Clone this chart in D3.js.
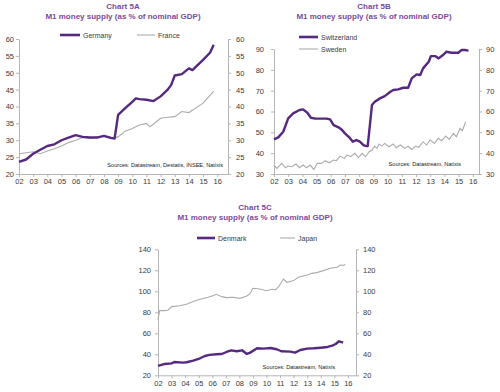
<!DOCTYPE html>
<html><head><meta charset="utf-8">
<script src="https://cdn.jsdelivr.net/npm/d3@7"></script>
<style>
body{margin:0;background:#fff}
text{font-family:"Liberation Sans",Arial,sans-serif}
</style>
</head><body>
<svg id="c" width="500" height="392"></svg>
<script>
// ---------- data ----------
const yearTicks = [2002,2003,2004,2005,2006,2007,2008,2009,2010,2011,2012,2013,2014,2015,2016];
const yearLabels = ["02","03","04","05","06","07","08","09","10","11","12","13","14","15","16"];

const ticks5A = [20,25,30,35,40,45,50,55,60];
const ticks5B = [30,40,50,60,70,80,90];
const ticks5C = [20,40,60,80,100,120,140];

const germanyYears = [2002.0,2002.5,2003.0,2003.5,2004.0,2004.5,2005.0,2005.5,2006.0,2006.5,2007.0,2007.5,2008.0,2008.5,2008.75,2009.0,2009.5,2010.0,2010.25,2010.5,2011.0,2011.5,2012.0,2012.5,2012.75,2013.0,2013.5,2014.0,2014.25,2014.5,2015.0,2015.5,2015.75];
const germany = [23.6,24.3,26.0,27.2,28.3,28.8,30.0,30.8,31.5,31.0,30.8,30.8,31.3,30.7,30.5,37.5,39.5,41.4,42.4,42.2,42.0,41.6,43.0,45.0,46.4,49.2,49.6,51.3,50.8,51.8,53.8,56.0,58.3];

const franceYears = [2002.0,2002.5,2003.0,2003.5,2004.0,2004.5,2005.0,2005.5,2006.0,2006.5,2007.0,2007.5,2008.0,2008.5,2009.0,2009.5,2010.0,2010.5,2011.0,2011.25,2011.5,2012.0,2012.5,2013.0,2013.5,2014.0,2014.5,2015.0,2015.5,2015.75];
const france = [26.0,26.3,26.6,26.0,26.8,27.5,28.3,29.3,30.0,30.8,30.5,31.0,31.2,30.5,31.0,32.7,33.5,34.5,35.0,34.0,34.8,36.5,36.8,37.0,38.5,38.2,39.6,41.0,43.4,44.5];

const switzerlandYears = [2002.0,2002.3,2002.65,2003.0,2003.35,2003.8,2004.05,2004.35,2004.6,2004.9,2005.7,2005.95,2006.2,2006.55,2006.75,2007.0,2007.3,2007.55,2007.8,2008.05,2008.3,2008.5,2008.6,2008.9,2009.1,2009.46,2009.8,2010.2,2010.4,2010.75,2011.1,2011.45,2011.7,2012.05,2012.3,2012.5,2012.9,2013.05,2013.35,2013.6,2013.9,2014.15,2014.5,2014.98,2015.2,2015.45,2015.7];
const switzerland = [46.6,47.6,50.3,56.7,59.1,60.7,61.0,59.4,57.0,56.6,56.6,56.2,53.5,52.4,51.4,49.5,47.6,45.5,46.3,45.5,43.9,43.4,43.4,63.1,64.7,66.3,67.4,69.5,70.3,70.6,71.4,71.4,75.9,77.8,77.5,80.7,83.9,86.6,86.6,85.5,87.1,88.7,88.2,88.2,89.5,89.5,89.2];

const swedenYears = [2002.0,2002.2,2002.55,2002.8,2003.0,2003.25,2003.55,2003.8,2004.05,2004.3,2004.55,2004.8,2005.05,2005.35,2005.6,2005.9,2006.2,2006.4,2006.65,2006.95,2007.15,2007.4,2007.7,2007.95,2008.2,2008.45,2008.7,2008.9,2009.1,2009.25,2009.4,2009.6,2009.8,2010.1,2010.4,2010.6,2010.9,2011.2,2011.45,2011.7,2011.97,2012.2,2012.5,2012.75,2013.0,2013.3,2013.57,2013.8,2014.1,2014.35,2014.63,2014.85,2015.1,2015.27,2015.5];
const sweden = [34.3,32.7,35.1,33.0,33.8,33.5,34.8,33.0,34.3,33.0,34.3,32.2,35.1,35.1,36.4,35.4,36.7,36.4,38.6,37.5,39.1,38.3,39.9,37.8,39.9,38.3,40.7,41.5,43.4,42.3,44.4,43.4,44.7,43.1,44.4,42.6,43.9,42.3,43.4,41.8,43.4,42.8,45.5,43.9,46.3,44.7,47.1,46.0,48.2,46.6,49.5,47.9,51.9,50.8,55.1];

const denmarkYears = [2002.0,2002.5,2003.0,2003.2,2003.85,2004.1,2004.6,2005.1,2005.45,2005.8,2006.3,2006.7,2007.05,2007.4,2007.8,2008.2,2008.55,2008.8,2009.3,2009.8,2010.3,2010.75,2011.1,2011.75,2012.1,2012.5,2013.0,2013.5,2014.0,2014.5,2014.85,2015.1,2015.35,2015.6,2015.65];
const denmark = [28.9,30.8,31.4,32.7,32.1,32.4,34.0,36.2,38.4,39.4,40.0,40.3,42.2,43.8,42.9,43.8,40.3,41.6,45.7,45.4,46.0,44.8,42.9,42.5,41.6,44.1,45.4,45.7,46.3,47.0,48.3,49.8,52.4,51.4,51.1];

const japanYears = [2002.0,2002.12,2002.5,2002.75,2003.0,2003.6,2004.1,2004.6,2005.1,2005.7,2006.1,2006.3,2006.7,2007.05,2007.55,2008.05,2008.55,2008.8,2009.0,2009.5,2010.0,2010.4,2010.65,2010.9,2011.25,2011.5,2012.0,2012.35,2013.0,2013.35,2013.7,2014.2,2014.7,2015.2,2015.45,2015.7,2015.8];
const japan = [72.7,81.6,81.6,82.2,85.4,86.3,87.6,90.2,92.4,94.3,95.9,97.1,94.9,94.0,94.3,93.3,95.6,98.0,102.9,102.2,100.6,101.9,101.3,104.4,111.7,108.6,110.2,113.3,115.6,117.1,117.8,119.7,121.9,122.9,125.1,124.8,125.7];

// ---------- drawing ----------
const svg = d3.select("#c");
const PURPLE = "#55297f", GREY = "#ababab", TITLE = "#7b4a9d", AXIS = "#b5b5b5", TXT = "#3a3a3a";

function drawChart(cfg){
  const g = svg.append("g");
  const x = d3.scaleLinear().domain([2002, cfg.xMax]).range([cfg.left, cfg.right]);
  const y = d3.scaleLinear().domain([cfg.ticks[0], cfg.ticks[cfg.ticks.length-1]]).range([cfg.bottom, cfg.top]);

  const styleAxis = sel => {
    sel.selectAll("path,line").attr("stroke", AXIS);
    sel.selectAll("text").attr("fill", TXT).style("font-size","7.5px")
       .style("font-family",'"Liberation Sans",Arial,sans-serif');
  };
  g.append("g").attr("transform",`translate(${cfg.left},0)`)
    .call(d3.axisLeft(y).tickValues(cfg.ticks).tickSize(3).tickSizeOuter(0).tickPadding(cfg.padL))
    .call(styleAxis);
  g.append("g").attr("transform",`translate(${cfg.right},0)`)
    .call(d3.axisRight(y).tickValues(cfg.ticks).tickSize(3).tickSizeOuter(0).tickPadding(cfg.padR))
    .call(styleAxis);
  g.append("g").attr("transform",`translate(0,${cfg.bottom})`)
    .call(d3.axisBottom(x).tickValues(yearTicks).tickFormat((d,i)=>yearLabels[i]).tickSize(3).tickSizeOuter(0).tickPadding(2))
    .call(styleAxis);

  const line = d3.line().x(d=>x(d[0])).y(d=>y(d[1]));
  const mk = (yrs, vals) => yrs.map((t,i)=>[t, vals[i]]);
  g.append("path").datum(mk(cfg.greyYears, cfg.grey)).attr("d", line)
    .attr("fill","none").attr("stroke",GREY).attr("stroke-width",1.1);
  g.append("path").datum(mk(cfg.purpleYears, cfg.purple)).attr("d", line)
    .attr("fill","none").attr("stroke",PURPLE).attr("stroke-width",2.4).attr("stroke-linejoin","round");

  // titles
  g.append("text").attr("x",cfg.cx).attr("y",cfg.titleY).attr("text-anchor","middle")
    .attr("fill",TITLE).style("font-size","8px").style("font-weight","bold").text(cfg.title);
  g.append("text").attr("x",cfg.cx).attr("y",cfg.titleY+9.5).attr("text-anchor","middle")
    .attr("fill",TITLE).style("font-size","8px").style("font-weight","bold").text("M1 money supply (as % of nominal GDP)");

  // legend
  cfg.legend.forEach(l=>{
    g.append("line").attr("x1",l.x).attr("x2",l.x+l.w).attr("y1",l.y).attr("y2",l.y)
      .attr("stroke", l.purple?PURPLE:GREY).attr("stroke-width", l.purple?2.6:1.1);
    g.append("text").attr("x",l.x+l.w+3).attr("y",l.y+2.5).attr("fill",TXT)
      .style("font-size","7px").text(l.name);
  });

  // sources
  g.append("text").attr("x",cfg.srcX).attr("y",cfg.srcY).attr("text-anchor","end")
    .attr("fill","#222").style("font-size","5.6px").text(cfg.src);
}

drawChart({
  left:19, right:228, top:39, bottom:174, xMax:2016.76, ticks:ticks5A, padL:2, padR:5,
  purpleYears:germanyYears, purple:germany, greyYears:franceYears, grey:france,
  title:"Chart 5A", cx:123, titleY:9,
  legend:[{x:60,y:35,w:20,name:"Germany",purple:true},{x:137,y:35,w:18,name:"France",purple:false}],
  src:"Sources: Datastream, Destatis, INSEE, Natixis", srcX:223, srcY:167
});
drawChart({
  left:274, right:479, top:49, bottom:174, xMax:2016.44, ticks:ticks5B, padL:7, padR:4,
  purpleYears:switzerlandYears, purple:switzerland, greyYears:swedenYears, grey:sweden,
  title:"Chart 5B", cx:374, titleY:9,
  legend:[{x:299,y:37,w:19,name:"Switzerland",purple:true},{x:299,y:49,w:19,name:"Sweden",purple:false}],
  src:"Sources: Datastream, Natixis", srcX:461, srcY:166
});
drawChart({
  left:158, right:356, top:249.3, bottom:375.3, xMax:2016.6, ticks:ticks5C, padL:4, padR:4,
  purpleYears:denmarkYears, purple:denmark, greyYears:japanYears, grey:japan,
  title:"Chart 5C", cx:255, titleY:210,
  legend:[{x:197,y:238,w:18,name:"Denmark",purple:true},{x:280,y:238,w:15,name:"Japan",purple:false}],
  src:"Sources: Datastream, Natixis", srcX:335, srcY:369
});
</script>
</body></html>
